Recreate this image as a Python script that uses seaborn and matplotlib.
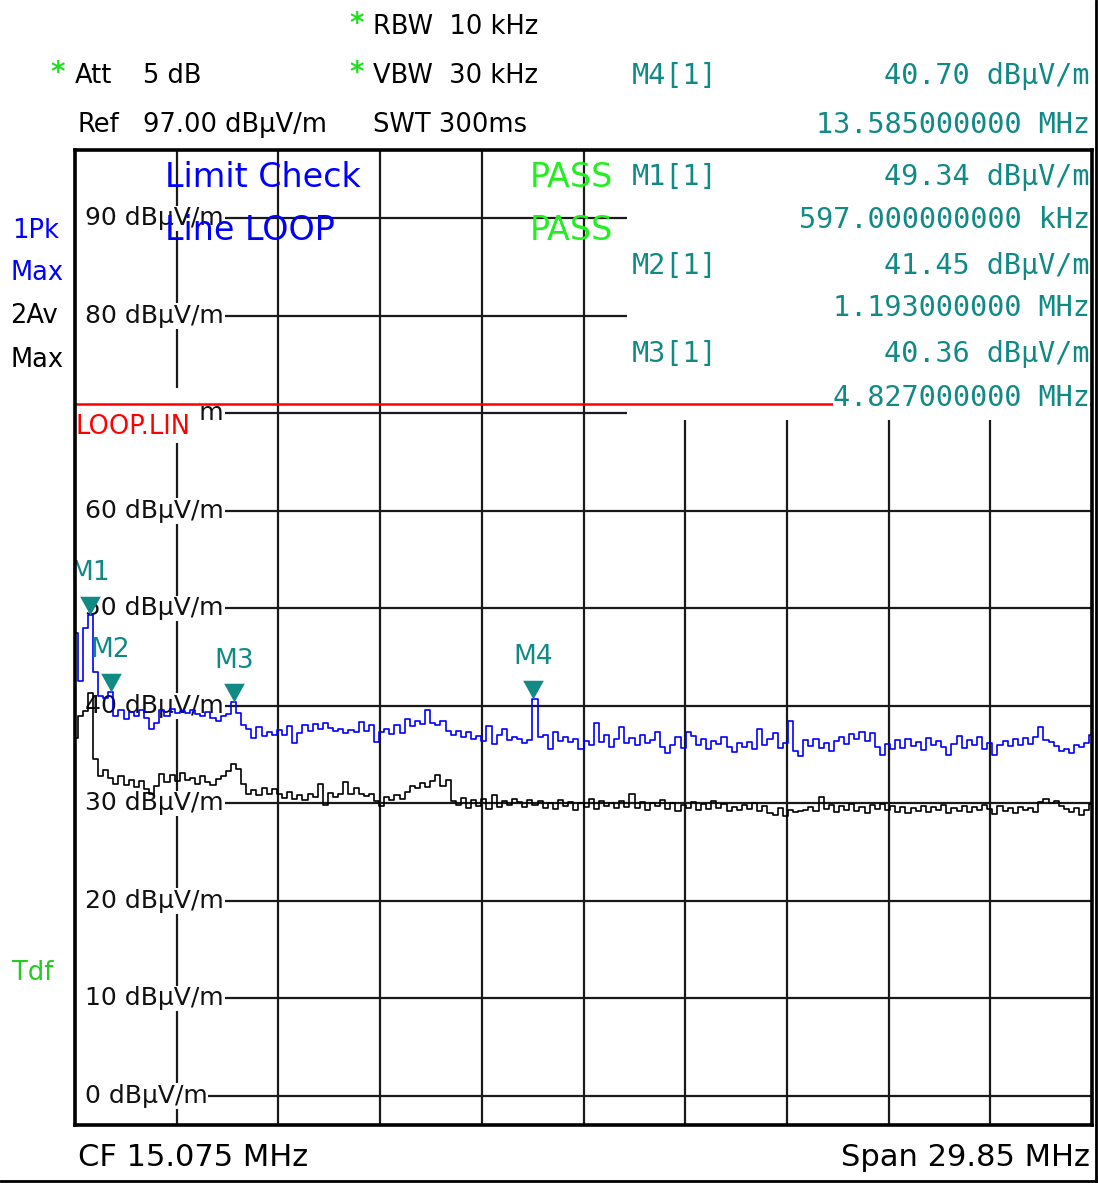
import matplotlib
matplotlib.use('Agg')
import matplotlib.pyplot as plt
import matplotlib.transforms as mtransforms
from matplotlib.patches import Rectangle
from matplotlib.lines import Line2D
import numpy as np
import pandas as pd
import seaborn as sns

# Sweep settings (CF 15.075 MHz, Span 29.85 MHz)
start_mhz = 0.15
stop_mhz = 30.0
n_points = 200
ref_level = 97.0
bottom_level = -3.0
limit_level = 71.0

freq = np.linspace(start_mhz, stop_mhz, n_points)

# Trace 1: Pk max (blue)
peak_max = [
    47.5, 42.5, 48.0, 49.34, 43.5, 41.0, 40.8, 41.45, 39.0, 39.6,
    38.6, 39.4, 39.0, 39.6, 38.7, 37.6, 38.2, 39.6, 38.9, 39.7,
    39.3, 39.5, 39.3, 39.6, 39.2, 38.9, 39.4, 38.7, 38.4, 39.0,
    39.2, 40.36, 39.3, 38.0, 37.6, 36.7, 37.8, 36.9, 37.3, 37.0,
    37.5, 37.0, 37.9, 36.2, 37.2, 38.0, 37.4, 38.1, 37.6, 38.2,
    37.7, 37.4, 37.6, 37.2, 37.5, 37.3, 38.3, 37.4, 38.0, 36.3,
    37.3, 37.6, 37.1, 38.0, 37.2, 38.6, 37.9, 38.4, 38.1, 39.6,
    38.2, 38.0, 38.4, 37.4, 37.0, 37.4, 36.8, 37.3, 36.6, 36.9,
    36.4, 37.9, 36.1, 37.0, 37.6, 36.5, 36.8, 36.6, 36.2, 36.5,
    40.7, 36.8, 37.0, 35.6, 37.3, 36.4, 36.8, 36.3, 36.6, 35.6,
    36.4, 36.0, 38.2, 36.3, 37.0, 35.8, 36.6, 37.8, 36.2, 36.7,
    36.0, 37.0, 36.2, 36.5, 37.3, 35.8, 35.2, 36.0, 36.8, 35.7,
    37.3, 36.9, 36.0, 36.6, 35.6, 36.4, 36.1, 36.8, 35.8, 35.3,
    36.2, 35.8, 36.3, 35.6, 37.6, 36.0, 36.6, 37.2, 35.7, 36.2,
    38.4, 35.4, 34.8, 36.5, 35.9, 36.6, 35.7, 36.2, 35.4, 36.4,
    36.8, 36.1, 37.1, 36.6, 37.3, 36.4, 37.2, 35.8, 35.0, 36.1,
    35.6, 36.5, 35.7, 36.6, 35.9, 36.3, 35.5, 36.7, 36.0, 36.4,
    35.8, 35.0, 36.1, 36.9, 35.7, 36.5, 36.0, 36.8, 35.6, 36.2,
    35.0, 36.0, 36.4, 35.9, 36.6, 36.0, 36.7, 36.1, 36.8, 37.8,
    36.5, 36.3, 35.9, 35.4, 35.6, 35.2, 36.0, 35.8, 36.2, 37.0,
]

# Trace 2: Av max (black)
avg_max = [
    36.7, 39.0, 39.5, 41.3, 34.5, 32.8, 33.4, 32.6, 32.0, 32.8,
    31.9, 32.4, 31.7, 32.3, 31.5, 31.0, 31.8, 33.0, 32.2, 32.9,
    32.3, 33.1, 32.4, 32.6, 32.0, 32.8, 32.2, 31.9, 32.5, 32.8,
    33.3, 34.0, 33.5, 32.0, 31.0, 31.4, 30.8, 31.6, 31.0, 31.5,
    30.9, 30.5, 31.2, 30.4, 30.8, 30.3, 31.0, 30.6, 32.0, 29.8,
    31.1, 30.6, 30.9, 32.2, 31.0, 31.6, 31.0, 30.7, 30.9, 30.2,
    29.7, 30.6, 30.3, 30.8, 30.4, 31.2, 31.8, 31.6, 32.1, 31.7,
    32.3, 32.9, 31.8, 32.4, 30.2, 29.8, 30.5, 29.5, 30.3, 29.7,
    30.4, 29.4, 30.8, 29.6, 30.2, 29.8, 30.4, 30.1, 29.6, 30.3,
    29.8, 30.2, 29.5, 30.0, 29.4, 30.3, 29.7, 30.1, 29.3, 30.0,
    29.6, 30.4, 29.4, 30.2, 29.7, 30.0, 29.5, 30.2, 29.6, 31.0,
    29.5, 30.1, 29.3, 30.0, 29.7, 30.3, 29.4, 30.0, 29.2, 29.8,
    29.5, 30.1, 29.3, 29.9, 29.4, 30.2, 29.5, 29.9, 29.2, 29.6,
    29.3, 29.8, 29.4, 30.0, 29.2, 29.7, 29.0, 28.8, 29.5, 28.7,
    29.3, 29.1, 29.2, 29.3, 29.6, 29.2, 30.6, 29.4, 29.8, 29.1,
    29.7, 29.3, 29.9, 29.2, 29.6, 29.0, 29.8, 29.4, 29.9, 29.3,
    29.7, 29.1, 29.6, 29.0, 29.5, 29.2, 29.7, 29.1, 29.6, 29.3,
    29.8, 29.0, 29.5, 29.2, 29.7, 29.1, 29.6, 29.3, 29.8, 29.4,
    28.9, 29.7, 29.2, 29.5, 29.0, 29.6, 29.3, 29.5, 29.1, 30.1,
    30.4, 30.0, 30.2, 29.7, 29.4, 29.1, 29.5, 28.8, 29.3, 29.9,
]

# Markers
marker_names = ['M1', 'M2', 'M3', 'M4']
marker_freq = [0.597, 1.193, 4.827, 13.585]
marker_level = [49.34, 41.45, 40.36, 40.70]
marker_freq_text = ['597.000000000 kHz', '1.193000000 MHz', '4.827000000 MHz', '13.585000000 MHz']

level_ticks = [0, 10, 20, 30, 40, 50, 60, 70, 80, 90]

teal = '#118a86'
green = '#22ee22'

df = pd.DataFrame({'freq': np.concatenate([freq, freq]),
                   'level': peak_max + avg_max,
                   'trace': ['1Pk'] * n_points + ['2Av'] * n_points})

sns.set_style('white')
plt.rcParams['font.family'] = ['DejaVu Sans']
plt.rcParams['text.color'] = 'black'

W, H = 1098, 1183
fig = plt.figure(figsize=(W / 100, H / 100), dpi=100)
ax = fig.add_axes([75 / W, 1 - 1125 / H, 1017 / W, 975 / H])


def fx(px):
    return px / W


def fy(py):
    return 1 - py / H


ax.set_xlim(start_mhz, stop_mhz)
ax.set_ylim(bottom_level, ref_level)
ax.set_xticks([])
ax.set_yticks([])
for s in ax.spines.values():
    s.set_linewidth(2.6)
    s.set_color('black')
    s.set_zorder(10)

# grid: 10 divisions across the span
div = (stop_mhz - start_mhz) / 10
ax.vlines([start_mhz + div * i for i in range(1, 10)], bottom_level, ref_level,
          color='#1a1a1a', lw=1.6, zorder=1)
for lv in level_ticks:
    x0 = 4.05 if lv == 0 else 4.55
    ax.hlines(lv, x0, stop_mhz, color='#1a1a1a', lw=1.6, zorder=1)

# level labels inside the grid
ytrans = mtransforms.blended_transform_factory(ax.transAxes, ax.transData)
for lv in level_ticks:
    ax.text(0.0098, lv, f'{lv} dBµV/m', transform=ytrans, ha='left', va='center',
            fontsize=18, color='#111111', zorder=3,
            bbox=dict(facecolor='white', edgecolor='none', pad=0.5))

# marker readout panel covering the upper right of the grid
ax.add_patch(Rectangle((0.5428, 0.7231), 0.4572, 0.2769, transform=ax.transAxes,
                       facecolor='white', edgecolor='none', zorder=2))

# limit line and its label (label box hides most of the 70 dB text)
ax.axhline(limit_level, color='red', lw=1.8, zorder=3.6)
ax.add_patch(Rectangle((0.0, 67.0), 0.122, 5.6, transform=ytrans,
                       facecolor='white', edgecolor='none', zorder=3.5))
ax.text(0.0, 68.6, 'LOOP.LIN', transform=ytrans, ha='left', va='center',
        fontsize=18.5, color='red', zorder=4)

# traces
sns.lineplot(data=df, x='freq', y='level', hue='trace',
             palette={'1Pk': '#0000ff', '2Av': '#000000'},
             estimator=None, drawstyle='steps-mid', linewidth=1.2,
             legend=False, ax=ax, zorder=5)
ax.set_xlabel('')
ax.set_ylabel('')

# marker triangles with tip on the trace
tri = [(-0.55, 1.0), (0.55, 1.0), (0.0, 0.0), (-0.55, 1.0)]
ax.plot(marker_freq, marker_level, linestyle='none', marker=tri, ms=27,
        color=teal, markeredgewidth=0, zorder=6)
for name, f, lv in zip(marker_names, marker_freq, marker_level):
    ax.annotate(name, (f, lv), xytext=(0, 30), textcoords='offset points',
                ha='center', va='center', color=teal, fontsize=19, zorder=6)

# limit check text
fig.text(fx(165), fy(178), 'Limit Check', color='#0000ff', fontsize=24,
         ha='left', va='center', zorder=7)
fig.text(fx(165), fy(230), 'Line LOOP', color='#0000ff', fontsize=24,
         ha='left', va='center', zorder=7)
fig.text(fx(530), fy(178), 'PASS', color=green, fontsize=24, ha='left', va='center')
fig.text(fx(530), fy(230), 'PASS', color=green, fontsize=24, ha='left', va='center')

# header settings
hdr = 18.5
star = dict(color='#22dd22', fontsize=20, fontweight='bold', ha='center', va='center')
fig.text(fx(357), fy(24), '*', **star)
fig.text(fx(373), fy(27), 'RBW  10 kHz', fontsize=hdr, ha='left', va='center')
fig.text(fx(58), fy(73), '*', **star)
fig.text(fx(75), fy(76), 'Att', fontsize=hdr, ha='left', va='center')
fig.text(fx(143), fy(76), '5 dB', fontsize=hdr, ha='left', va='center')
fig.text(fx(357), fy(73), '*', **star)
fig.text(fx(373), fy(76), 'VBW  30 kHz', fontsize=hdr, ha='left', va='center')
fig.text(fx(78), fy(125), 'Ref', fontsize=hdr, ha='left', va='center')
fig.text(fx(143), fy(125), '97.00 dBµV/m', fontsize=hdr, ha='left', va='center')
fig.text(fx(373), fy(125), 'SWT 300ms', fontsize=hdr, ha='left', va='center')

# marker readout
mono = dict(family='DejaVu Sans Mono', fontsize=20.5, color=teal, va='center')
rows = [(76, 125), (177, 220), (266, 308), (354, 398)]
order = [3, 0, 1, 2]
for (y1, y2), i in zip(rows, order):
    fig.text(fx(632), fy(y1), f'{marker_names[i]}[1]', ha='left', zorder=8, **mono)
    fig.text(fx(1090), fy(y1), f'{marker_level[i]:.2f} dBµV/m', ha='right', zorder=8, **mono)
    fig.text(fx(1090), fy(y2), marker_freq_text[i], ha='right', zorder=8,
             bbox=dict(facecolor='white', edgecolor='none', pad=0.2), **mono)

# trace labels on the left
fig.text(fx(12), fy(231), '1Pk', color='#0000ff', fontsize=hdr, ha='left', va='center')
fig.text(fx(10), fy(273), 'Max', color='#0000ff', fontsize=hdr, ha='left', va='center')
fig.text(fx(10), fy(316), '2Av', color='black', fontsize=hdr, ha='left', va='center')
fig.text(fx(10), fy(360), 'Max', color='black', fontsize=hdr, ha='left', va='center')
fig.text(fx(12), fy(973), 'Tdf', color='#22cc22', fontsize=hdr, ha='left', va='center')

# footer
fig.text(fx(78), fy(1158), f'CF {(start_mhz + stop_mhz) / 2:.3f} MHz', fontsize=22,
         ha='left', va='center')
fig.text(fx(1090), fy(1158), f'Span {stop_mhz - start_mhz:.2f} MHz', fontsize=22,
         ha='right', va='center')

# outer border on right and bottom
fig.add_artist(Line2D([fx(1096), fx(1096)], [0, 1], transform=fig.transFigure,
                      color='black', lw=2))
fig.add_artist(Line2D([0, 1], [fy(1181), fy(1181)], transform=fig.transFigure,
                      color='black', lw=2))

fig.savefig('out.png', dpi=100)
